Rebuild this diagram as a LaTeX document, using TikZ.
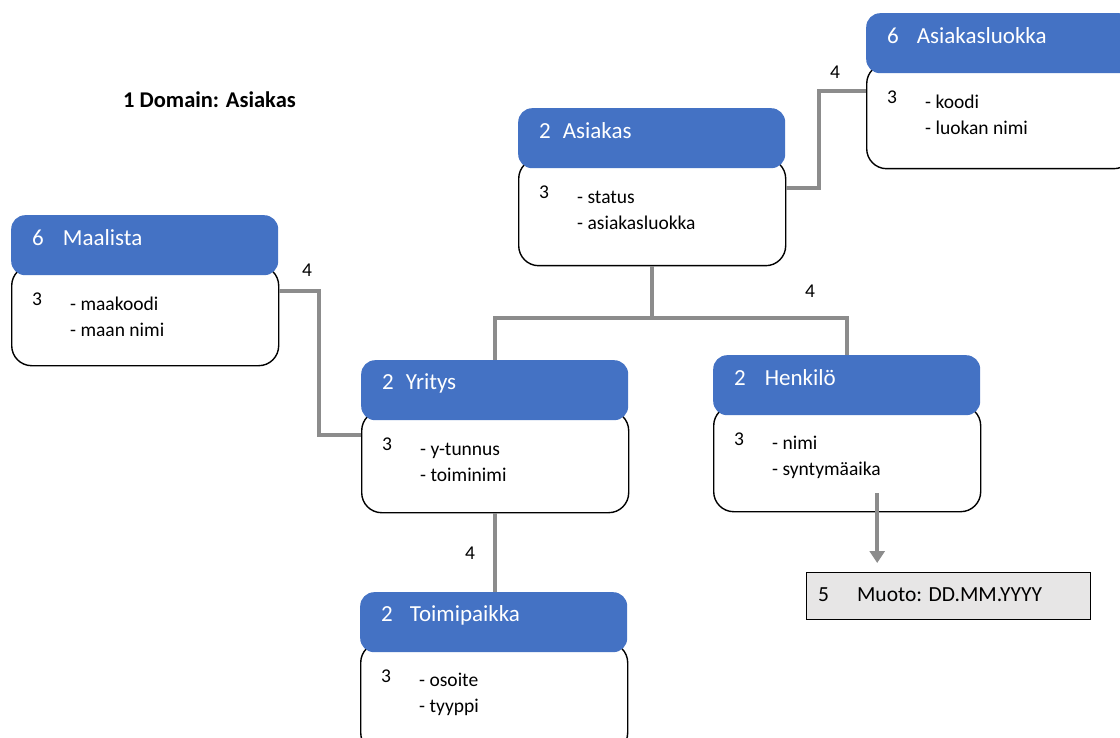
\documentclass[tikz,border=0pt]{standalone}
\usepackage{fontspec}
\setmainfont{Carlito}
\usetikzlibrary{arrows.meta,calc}
\definecolor{hdrblue}{HTML}{4472C4}
\definecolor{linkgray}{HTML}{8C8C8C}
\definecolor{notegray}{HTML}{E7E6E6}
\begin{document}
\begin{tikzpicture}[x=1pt,y=-1pt,font=\fontsize{19.5}{26}\selectfont,
  head/.style={fill=hdrblue,rounded corners=14,minimum width=267,minimum height=60,anchor=north west,inner sep=0},
  body/.style={draw=black,line width=1.4,fill=white,rounded corners=20,minimum width=267,anchor=north west,inner sep=0},
  htxt/.style={anchor=west,inner sep=0,text=white,font=\fontsize{23}{28}\selectfont},
  btxt/.style={anchor=west,inner sep=0,align=left},
  link/.style={draw=linkgray,line width=4},
  num/.style={inner sep=0}]
\useasboundingbox (0,0) rectangle (1120,738);

% Title
\node[anchor=west,inner sep=0,font=\fontsize{22.5}{26}\selectfont\bfseries] (title) at (123,100) {1 Domain: Asiakas};

% Entity boxes: name/x/y/body height/number/gap/title/items
\foreach \nm/\x/\y/\bh/\num/\gap/\ttl/\itm in {
  asiakas/518/108/107/2/12/Asiakas/{- status\\- asiakasluokka},
  asiakasluokka/866/13/105/6/18/Asiakasluokka/{- koodi\\- luokan nimi},
  maalista/11/215/100/6/19/Maalista/{- maakoodi\\- maan nimi},
  yritys/361/360/102/2/12/Yritys/{- y-tunnus\\- toiminimi},
  henkilo/713/355/106/2/19/Henkilö/{- nimi\\- syntymäaika},
  toimipaikka/360/592/110/2/17/Toimipaikka/{- osoite\\- tyyppi}} {
  \node[body,minimum height=\bh] (\nm) at (\x,\y+50) {};
  \node[head] (\nm H) at (\x,\y) {};
  \node[htxt] (\nm T) at (\x+21,\y+23) {\num\hspace{\gap pt}\ttl};
  \node[btxt] (\nm N) at (\x+21,\y+84) {3};
  \node[btxt] (\nm L) at (\x+59,\y+102) {\itm};
}

% Format note
\node[draw=black,line width=1.4,fill=notegray,minimum width=284,minimum height=47,anchor=north west,inner sep=0] (muoto) at (806,572) {};
\node[btxt,font=\fontsize{21.5}{26}\selectfont] (muotoT) at (818,595) {5\hspace{28pt}Muoto: DD.MM.YYYY};

% Links
\draw[link] ($(asiakas.north east)+(0,30)$) -- ++(33,0) |- ($(asiakasluokka.north west)+(0,28)$);
\draw[link] (asiakas.south) -- ++(0,52) coordinate (split);
\draw[link] (yritysH.north) |- (split) -| (henkiloH.north);
\draw[link] ($(maalista.north east)+(0,26)$) -- ++(40,0) |- ($(yritys.north west)+(0,25)$);
\draw[link] (yritys.south) -- (yritys.south |- toimipaikkaH.north);

% Format arrow
\coordinate (arrS) at ($(henkilo.south)+(30,-19)$);
\draw[link,-{Triangle[width=15pt,length=12pt]},shorten >=9pt] (arrS) -- (arrS |- muoto.north);

% Link labels
\node[num] (l1) at (835,72) {4};
\node[num] (l2) at (810,291) {4};
\node[num] (l3) at (307,270) {4};
\node[num] (l4) at (470,553) {4};

\end{tikzpicture}
\end{document}
